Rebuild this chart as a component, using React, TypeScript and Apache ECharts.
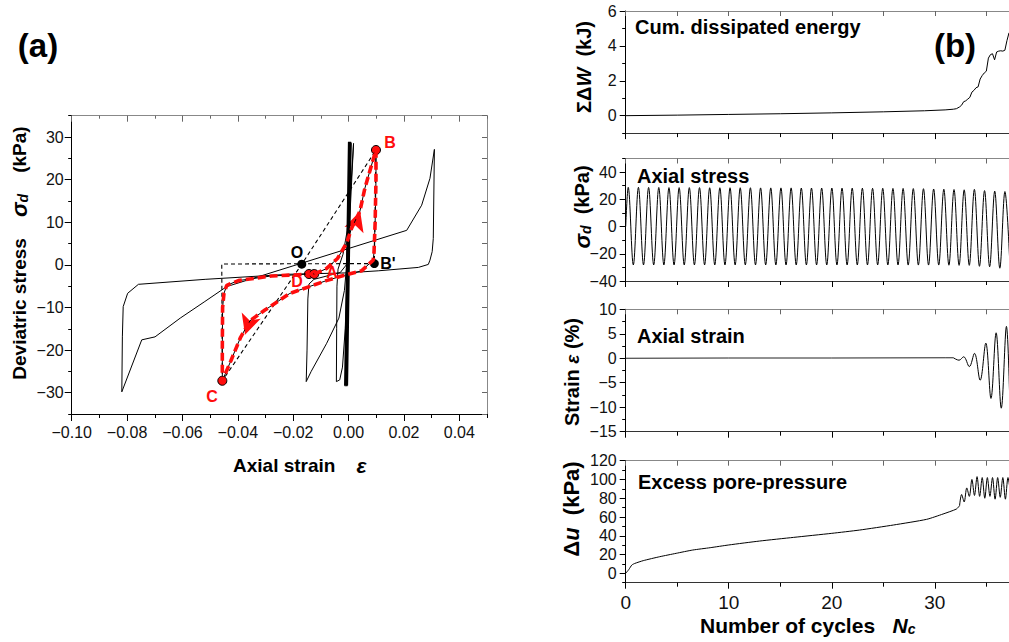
import { useEffect, useRef } from 'react';
import * as echarts from 'echarts';

const FONT = '"Liberation Sans", Arial, Helvetica, sans-serif';
const RED = '#ff0d0d';

// ---------- Panel (a): deviatric stress vs axial strain ----------
const A_X_LABELS = [-0.1, -0.08, -0.06, -0.04, -0.02, 0, 0.02, 0.04];
const A_X_MINOR = [-0.09, -0.07, -0.05, -0.03, -0.01, 0.01, 0.03, 0.05];
const A_Y_LABELS = [-30, -20, -10, 0, 10, 20, 30];
const A_Y_MINOR = [-35, -25, -15, -5, 5, 15, 25, 35];
const A_Y_RIGHT = [-35, -30, -25, -20, -15, -10, -5, 0, 5, 10, 15, 20, 25, 30, 35];

const loopLarge = [
  [0.031, 27.1], [0.0306, 6.2], [0.0302, 3.1], [0.0294, 1.1], [0.0288, 0.1], [0.0252, -0.6],
  [0.0107, -1.4], [-0.0013, -1.9], [-0.0212, -2.2], [-0.0518, -3.4], [-0.0759, -4.57],
  [-0.0798, -6.68], [-0.0814, -9.8], [-0.0817, -16.9], [-0.0819, -29.8], [-0.0747, -17.6],
  [-0.0699, -16.9], [-0.0608, -12.5], [-0.0519, -8.6], [-0.044, -5.1], [0.021, 8.1],
  [0.0264, 14.0], [0.0294, 20.3], [0.031, 27.1],
];
const loopMid = [
  [0.0008, 28.5], [0.0, 12], [-0.0008, 0], [-0.003, -1.8], [-0.0125, -3.4], [-0.0143, -4.5],
  [-0.0147, -8], [-0.015, -20], [-0.0153, -27.4], [-0.0135, -25], [-0.0079, -18.4],
  [-0.0035, -12.5], [-0.0015, -6], [0.0, 5], [0.0008, 28.5],
];
const loopSmall = [
  [0.0018, 28.5], [0.0008, 18], [-0.0005, 8], [-0.002, 2.5], [-0.0038, -1], [-0.0042, -5],
  [-0.0043, -15], [-0.0044, -27.4], [-0.0032, -27], [-0.0022, -24], [-0.0012, -15],
  [-0.0004, 0], [0.0018, 28.5],
];
const earlyBand = [
  [-0.0009, -28.5], [0.0004, 28.9], [-0.0007, -28.3], [0.0006, 28.7], [-0.0011, -28.4], [0.0003, 28.9],
];
const redLoop = [
  [-0.0124, -2.15], [-0.008, -0.9], [-0.004, 1.5], [-0.0007, 5.1], [0.0011, 8.6], [0.0041, 12.6],
  [0.0059, 18], [0.0083, 23.4], [0.0099, 26.95], [0.0099, 20], [0.0096, 10], [0.0092, 3],
  [0.0089, 1.1], [0.0047, -1.4], [-0.0007, -2.3], [-0.008, -3.7], [-0.0212, -6.7],
  [-0.0302, -10.6], [-0.0356, -13.1], [-0.039, -17], [-0.0425, -22.5], [-0.0456, -27.2],
  [-0.0456, -20], [-0.0455, -10], [-0.045, -6.7], [-0.044, -4.8], [-0.0398, -3.7],
  [-0.0278, -2.6], [-0.0205, -2.4], [-0.0143, -2.15], [-0.0124, -2.15],
];
const guideDashed = [
  [-0.0456, -27.2], [-0.0458, 0.2], [0.0093, 0.3], [0.0099, 26.95], [-0.0169, 0.15], [-0.0456, -27.2],
];
const redPoints = [[0.0099, 26.95], [-0.0456, -27.2], [-0.0143, -2.15], [-0.0124, -2.15]];
const blackPoints = [[-0.0169, 0.15], [0.0093, 0.3]];
const arrowPoints = [[0.0042, 12.6, -18], [-0.0374, -16.4, 162]];
const pointNames = ['B', 'C', 'O', "B'", 'A', 'D'];
const pointSpots = [[0.015, 28.8], [-0.0493, -30.8], [-0.0186, 2.8], [0.0142, 0.43], [-0.006, -1.8], [-0.0186, -3.8]];
const pointIsRed = [true, true, false, false, true, true];

// ---------- Panel (b): histories vs number of cycles ----------
const NC_MAX = 37.2;
const NC_MAJOR = [0, 10, 20, 30];
const NC_MINOR = [5, 15, 25, 35];
const NC_ALL = [0, 5, 10, 15, 20, 25, 30, 35];

const energy = [
  [0, 0], [5, 0.03], [10, 0.07], [15, 0.11], [20, 0.16], [25, 0.22], [29, 0.28], [31, 0.33],
  [31.8, 0.37], [32.1, 0.4], [32.4, 0.5], [32.6, 0.6], [32.8, 0.8], [33.0, 0.85], [33.2, 0.95],
  [33.4, 1.05], [33.6, 1.35], [33.8, 1.45], [34.0, 1.6], [34.2, 1.65], [34.4, 2.1], [34.6, 2.3],
  [34.8, 2.45], [35.0, 2.55], [35.2, 3.3], [35.4, 3.5], [35.6, 3.55], [35.8, 3.2], [36.0, 3.65],
  [36.2, 3.7], [36.4, 3.72], [36.6, 3.7], [36.8, 3.75], [37.0, 4.3], [37.2, 4.75],
];
const E_LABELS = [0, 2, 4, 6];
const E_MINOR = [-1, 1, 3, 5];

const STRESS_PERIOD = 0.988;
const stressPeaks = [
  28.8, 28.8, 28.7, 28.7, 28.6, 28.6, 28.6, 28.6, 28.5, 28.5,
  28.5, 28.5, 28.5, 28.4, 28.4, 28.4, 28.4, 28.3, 28.3, 28.3,
  28.3, 28.2, 28.2, 28.2, 28.1, 28.1, 28.0, 28.0, 27.9, 27.8,
  27.6, 27.4, 27.2, 27.0, 27.3, 26.4, 26.0, 25.7,
];
const stressTroughs = [
  -28.2, -28.2, -28.2, -28.2, -28.2, -28.2, -28.2, -28.2, -28.2, -28.2,
  -28.2, -28.2, -28.2, -28.2, -28.2, -28.2, -28.2, -28.2, -28.2, -28.2,
  -28.2, -28.2, -28.2, -28.2, -28.2, -28.2, -28.2, -28.3, -28.3, -28.3,
  -28.3, -28.4, -28.5, -28.5, -29.2, -29.5, -30.6, -30.0,
];
const S_LABELS = [-40, -20, 0, 20, 40];
const S_MINOR = [-30, -10, 10, 30, 50];

const strainFlat = [[0, 0], [10, 0.05], [20, 0.05], [31, 0.1], [31.8, 0.1]];
const strainSwings = [
  [31.8, 0.1], [32.35, -0.4], [32.8, 0.3], [33.35, -1.7], [33.85, 1.0], [34.4, -4.5],
  [34.95, 3.1], [35.45, -8.2], [35.95, 5.2], [36.45, -10.2], [36.95, 6.5], [37.3, -10.8],
];
const EPS_LABELS = [-15, -10, -5, 0, 5, 10];
const EPS_MINOR = [-12.5, -7.5, -2.5, 2.5, 7.5];

const poreRise = [
  [0, 0], [0.3, 4], [0.6, 8.9], [0.9, 10.6], [1.7, 13.5], [3.3, 17.7], [4.9, 21.3], [6.5, 24.8],
  [8.2, 27.3], [10, 30.2], [13, 34.4], [16.3, 38.3], [20, 42.6], [22.7, 46.1], [26, 51.5],
  [29.2, 57.5], [30.8, 63.2], [32.1, 68.5], [32.4, 72],
];
const poreSwings = [
  [32.4, 72], [32.6, 84], [32.85, 76], [33.1, 91], [33.35, 82], [33.6, 100], [33.85, 83],
  [34.1, 103], [34.35, 82], [34.6, 102], [34.85, 80], [35.1, 102], [35.35, 82], [35.6, 102],
  [35.85, 79], [36.1, 102], [36.35, 81], [36.6, 102], [36.85, 79], [37.1, 102], [37.35, 85],
];
const U_LABELS = [0, 20, 40, 60, 80, 100, 120];
const U_MINOR = [-10, 10, 30, 50, 70, 90, 110];

const minus = (s: string) => s.replace('-', '\u2212');

function xAx(grid: number, min: number, max: number, o: any) {
  return {
    gridIndex: grid, type: 'value', min, max, position: o.position,
    axisLine: { show: !!o.line, onZero: false, lineStyle: { color: o.line || '#000', width: 1 } },
    axisTick: { show: true, inside: !!o.inside, length: o.len, customValues: o.ticks, lineStyle: { color: o.tickColor || '#000', width: 1 } },
    axisLabel: o.labels
      ? { show: true, customValues: o.labels, formatter: o.fmt, fontSize: o.fs, color: '#111', fontFamily: FONT, margin: o.margin }
      : { show: false },
    splitLine: { show: false },
  };
}
function yAx(grid: number, min: number, max: number, o: any) {
  return {
    gridIndex: grid, type: 'value', min, max, position: o.position,
    axisLine: { show: !!o.line, onZero: false, lineStyle: { color: o.line || '#000', width: 1 } },
    axisTick: { show: true, inside: !!o.inside, length: o.len, customValues: o.ticks, lineStyle: { color: o.tickColor || '#000', width: 1 } },
    axisLabel: o.labels
      ? { show: true, customValues: o.labels, formatter: (v: number) => minus(String(v)), fontSize: o.fs, color: '#111', fontFamily: FONT, margin: o.margin }
      : { show: false },
    splitLine: { show: false },
  };
}

function buildOption() {
  const grids = [
    { left: 71.7, top: 115.7, width: 415.3, height: 298.3 },
    { left: 625.7, top: 11, width: 383.5, height: 122.1 },
    { left: 625.7, top: 158.5, width: 383.5, height: 122.5 },
    { left: 625.7, top: 309.3, width: 383.5, height: 122.4 },
    { left: 625.7, top: 460.7, width: 383.5, height: 122 },
  ];
  const fmtA = (v: number) => minus(v.toFixed(2));
  const xAxes: any[] = [
    xAx(0, -0.1, 0.05, { position: 'bottom', line: '#000', len: 7, ticks: A_X_LABELS, labels: A_X_LABELS, fmt: fmtA, fs: 16, margin: 10 }),
    xAx(0, -0.1, 0.05, { position: 'bottom', len: 4, ticks: A_X_MINOR }),
    xAx(0, -0.1, 0.05, { position: 'top', line: '#888', inside: true, len: 6, ticks: A_X_LABELS, tickColor: '#666' }),
    xAx(0, -0.1, 0.05, { position: 'top', inside: true, len: 3, ticks: A_X_MINOR, tickColor: '#666' }),
  ];
  const yAxes: any[] = [
    yAx(0, -35, 35, { position: 'left', line: '#000', len: 7, ticks: A_Y_LABELS, labels: A_Y_LABELS, fs: 16, margin: 8 }),
    yAx(0, -35, 35, { position: 'left', len: 3.5, ticks: A_Y_MINOR }),
    yAx(0, -35, 35, { position: 'right', line: '#888', inside: true, len: 5, ticks: A_Y_RIGHT, tickColor: '#666' }),
  ];
  const yDefs = [
    [-1, 6, E_LABELS, E_MINOR],
    [-40, 50, S_LABELS, S_MINOR],
    [-15, 10, EPS_LABELS, EPS_MINOR],
    [-10, 120, U_LABELS, U_MINOR],
  ];
  for (let p = 0; p < 4; p++) {
    const g = p + 1;
    xAxes.push(xAx(g, 0, NC_MAX, { position: 'bottom', line: '#333', len: 6, ticks: NC_MAJOR, labels: p === 3 ? NC_MAJOR : null, fmt: (v: number) => String(v), fs: 19, margin: 10 }));
    xAxes.push(xAx(g, 0, NC_MAX, { position: 'bottom', len: 4, ticks: NC_MINOR }));
    xAxes.push(xAx(g, 0, NC_MAX, { position: 'top', line: '#888', inside: true, len: 5, ticks: NC_ALL, tickColor: '#666' }));
    const d: any = yDefs[p];
    yAxes.push(yAx(g, d[0], d[1], { position: 'left', line: '#000', len: 6, ticks: d[2], labels: d[2], fs: 16, margin: 9 }));
    yAxes.push(yAx(g, d[0], d[1], { position: 'left', len: 3.5, ticks: d[3] }));
  }

  const stressData: number[][] = [[0, 0]];
  stressPeaks.forEach((pk, k) => {
    stressData.push([(k + 0.25) * STRESS_PERIOD, pk]);
    stressData.push([(k + 0.75) * STRESS_PERIOD, stressTroughs[k]]);
  });

  const thin = (data: number[][], xi: number, yi: number, extra: any = {}) => ({
    type: 'line', xAxisIndex: xi, yAxisIndex: yi, data, symbol: 'none', showSymbol: false,
    lineStyle: { color: '#000', width: 1 }, silent: true, ...extra,
  });

  const series: any[] = [
    thin(loopLarge, 0, 0),
    thin(loopMid, 0, 0),
    thin(loopSmall, 0, 0),
    thin(earlyBand, 0, 0, { lineStyle: { color: '#000', width: 3 } }),
    thin(guideDashed, 0, 0, { lineStyle: { color: '#000', width: 1.1, type: [4, 3] } }),
    thin(redLoop, 0, 0),
    thin(redLoop, 0, 0, { lineStyle: { color: RED, width: 3.6, type: [8, 4] } }),
    {
      type: 'scatter', xAxisIndex: 0, yAxisIndex: 0, data: redPoints, symbolSize: 9, silent: true,
      itemStyle: { color: RED, borderColor: '#000', borderWidth: 1, opacity: 1 },
    },
    {
      type: 'scatter', xAxisIndex: 0, yAxisIndex: 0, data: blackPoints, symbolSize: 9, silent: true,
      itemStyle: { color: '#000', opacity: 1 },
    },
    {
      type: 'scatter', xAxisIndex: 0, yAxisIndex: 0, symbol: 'arrow', symbolSize: [15, 20], silent: true,
      data: arrowPoints.map((a) => ({ value: [a[0], a[1]], symbolRotate: a[2] })),
      itemStyle: { color: RED, opacity: 1 },
    },
    {
      type: 'scatter', xAxisIndex: 0, yAxisIndex: 0, symbolSize: 0, silent: true, z: 10,
      itemStyle: { opacity: 1 },
      data: pointNames.map((n, i) => ({ name: n, value: pointSpots[i], label: { color: pointIsRed[i] ? RED : '#000' } })),
      label: { show: true, position: 'inside', formatter: '{b}', fontSize: 16, fontWeight: 'bold', fontFamily: FONT, opacity: 1 },
    },
    thin(energy, 4, 3),
    thin(stressData, 7, 5, { smooth: 0.36 }),
    thin(strainFlat, 10, 7, { lineStyle: { color: '#222', width: 1 } }),
    thin(strainSwings, 10, 7, { smooth: 0.36 }),
    thin(poreRise, 13, 9, { smooth: 0.2 }),
    thin(poreSwings, 13, 9, { smooth: 0.3 }),
  ];

  const bold = (size: number) => ({ fontSize: size, fontWeight: 'bold', fontFamily: FONT, fill: '#000' });
  const ital = (size: number) => ({ fontSize: size, fontWeight: 'bold', fontStyle: 'italic', fontFamily: FONT, fill: '#000' });
  const sub = (size: number) => ({ fontSize: size, fontWeight: 'bold', fontStyle: 'italic', fontFamily: FONT, fill: '#000', verticalAlign: 'bottom', lineHeight: 10 });

  const txt = (x: number, y: number, text: string, rich: any, align = 'left', rot = 0) => ({
    type: 'text', x, y, rotation: rot, silent: true,
    style: { text, rich, align, verticalAlign: 'middle', fontFamily: FONT, fontSize: 20, fill: '#000' },
  });
  const R = Math.PI / 2;
  const graphic = [
    txt(38, 45, '{b|(a)}', { b: bold(33) }, 'center'),
    txt(955, 45, '{b|(b)}', { b: bold(33) }, 'center'),
    txt(19, 253, '{b|Deviatric stress    }{i|\u03c3}{s|d}{b|    (kPa)}', { b: bold(19), i: ital(22), s: sub(14) }, 'center', R),
    txt(233, 465, '{b|Axial strain    }{i|\u03b5}', { b: bold(19), i: ital(21) }, 'left'),
    txt(700, 625, '{b|Number of cycles   }{i|N}{s|c}', { b: bold(21), i: ital(21), s: sub(14) }, 'left'),
    txt(635, 27, '{b|Cum. dissipated energy}', { b: bold(20) }, 'left'),
    txt(637, 175.5, '{b|Axial stress}', { b: bold(20) }, 'left'),
    txt(637, 335.5, '{b|Axial strain}', { b: bold(20) }, 'left'),
    txt(638, 482, '{b|Excess pore-pressure}', { b: bold(20) }, 'left'),
    txt(584, 67, '{b|\u03a3\u0394}{i|W}{b|  (kJ)}', { b: bold(20), i: ital(20) }, 'center', R),
    txt(582, 207, '{i|\u03c3}{s|d}{b|  (kPa)}', { b: bold(20), i: ital(22), s: sub(14) }, 'center', R),
    txt(572, 372, '{b|Strain }{i|\u03b5}{b| (%)}', { b: bold(20), i: ital(19) }, 'center', R),
    txt(571, 509, '{b|\u0394}{i|u}{b|  (kPa)}', { b: bold(22), i: ital(22) }, 'center', R),
  ];

  return {
    animation: false,
    backgroundColor: '#fff',
    grid: grids,
    xAxis: xAxes,
    yAxis: yAxes,
    series,
    graphic,
  };
}

export default function App() {
  const ref = useRef<HTMLDivElement>(null);
  useEffect(() => {
    const chart = echarts.init(ref.current as HTMLDivElement, null, { renderer: 'svg' });
    chart.setOption(buildOption() as any);
    return () => chart.dispose();
  }, []);
  return (
    <div
      ref={ref}
      style={{ position: 'fixed', left: 0, top: 0, width: 1009, height: 642, background: '#fff' }}
    />
  );
}
